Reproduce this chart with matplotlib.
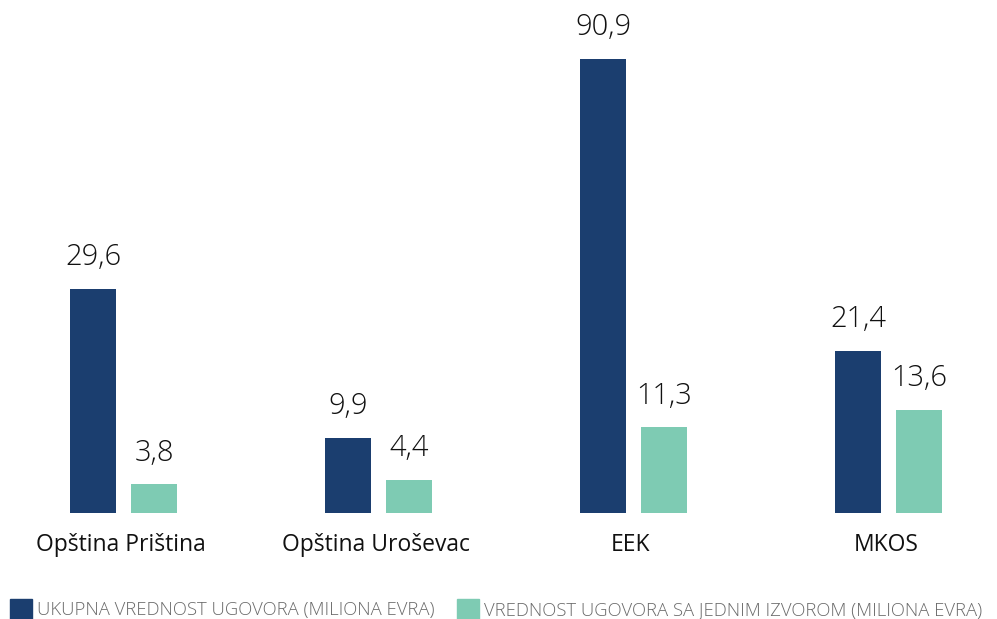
import numpy as np
import matplotlib.pyplot as plt
from matplotlib.patches import Rectangle

# podaci
kategorije = ["Opština Priština", "Opština Uroševac", "EEK", "MKOS"]
ukupno = [29.6, 9.9, 90.9, 21.4]
jedan_izvor = [3.8, 4.4, 11.3, 13.6]
legenda = ["UKUPNA VREDNOST UGOVORA (MILIONA EVRA)",
           "VREDNOST UGOVORA SA JEDNIM IZVOROM (MILIONA EVRA)"]

# najveci stubac je u originalu odsecen na 60
granica = 60

plava = "#1b3e6f"
zelena = "#7ecbb3"

plt.rcParams['font.family'] = ['Open Sans', 'DejaVu Sans']

fig = plt.figure(figsize=(9.97, 6.19), dpi=100)
ax = fig.add_axes([0, 106 / 619, 1, 1 - 106 / 619])

x = np.arange(len(kategorije))
w = 46 / 255
pomak = 30.5 / 255

h1 = np.minimum(ukupno, granica)
h2 = np.minimum(jedan_izvor, granica)
ax.bar(x - pomak, h1, w, color=plava)
ax.bar(x + pomak, h2, w, color=zelena)

for xi, v, h in zip(x - pomak, ukupno, h1):
    ax.text(xi, h + 2.2, f"{v:.1f}".replace(".", ","), ha="center", va="bottom",
            fontsize=21, color="#111111", fontweight="light")
for xi, v, h in zip(x + pomak, jedan_izvor, h2):
    ax.text(xi, h + 2.2, f"{v:.1f}".replace(".", ","), ha="center", va="bottom",
            fontsize=21, color="#111111", fontweight="light")

ax.set_xlim(-123.5 / 255, (997 - 123.5) / 255)
ax.set_ylim(0, 513 / 7.57)
ax.axis("off")

for xi, k in zip(x, kategorije):
    ax.text(xi - 0.01, -2.6, k, ha="center", va="top", fontsize=16.5, color="#111111")

# legenda
fig.patches.append(Rectangle((10 / 997, 1 - 621 / 619), 22 / 997, 22 / 619,
                             transform=fig.transFigure, color=plava))
fig.text(37 / 997, 1 - 610 / 619, legenda[0], va="center", fontsize=13.3,
         color="#6a6a6a", fontweight="light")
fig.patches.append(Rectangle((457 / 997, 1 - 621 / 619), 22 / 997, 22 / 619,
                             transform=fig.transFigure, color=zelena))
fig.text(484 / 997, 1 - 610 / 619, legenda[1], va="center", fontsize=13.3,
         color="#6a6a6a", fontweight="light")

fig.savefig("out.png", dpi=100)
